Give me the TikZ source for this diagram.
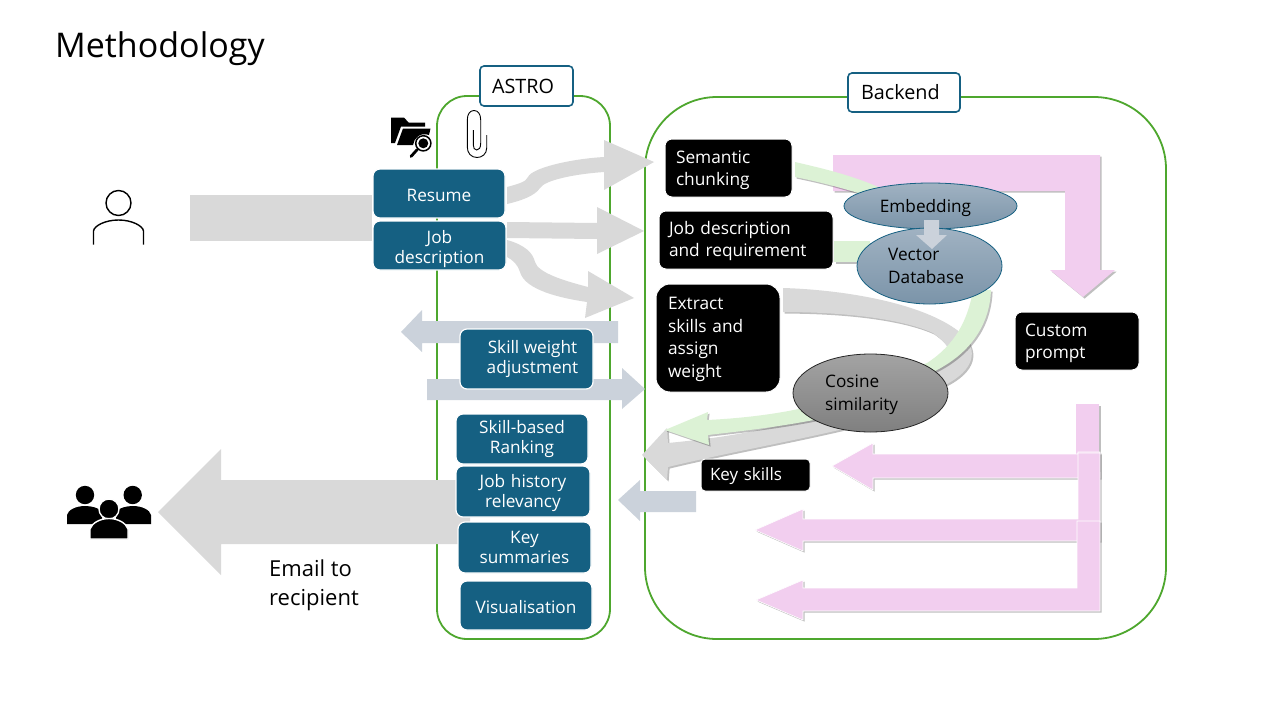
\documentclass[tikz,border=0pt]{standalone}
\usepackage{fontspec}
\setmainfont{Open Sans}
\usetikzlibrary{shapes.geometric,shadows}
\definecolor{teal}{HTML}{156082}
\definecolor{frame}{HTML}{4EA72E}
\definecolor{greyarrow}{HTML}{D9D9D9}
\definecolor{bluearrow}{HTML}{CBD2DB}
\definecolor{pinkarrow}{HTML}{F2CEEF}
\definecolor{greenarrow}{HTML}{DCF2D5}
\definecolor{HTMLtop}{HTML}{A0B2C2}
\definecolor{HTMLbot}{HTML}{7B94A9}
\tikzset{
  panel/.style={draw=frame,line width=1.8pt,fill=none},
  tag/.style={draw=teal,line width=1.6pt,fill=white,rounded corners=4pt,inner sep=0pt,text=black,align=left,font=\fontsize{19.8}{24}\selectfont},
  tealbox/.style={fill=teal,draw=white,line width=1.2pt,rounded corners=7pt,inner sep=0pt,text=white,align=center,font=\fontsize{17.2}{20}\selectfont},
  blackbox/.style={fill=black,draw=white,line width=1pt,rounded corners=7pt,inner sep=0pt,text=white,align=left,font=\fontsize{17.3}{22.7}\selectfont},
  orb/.style={ellipse,inner sep=0pt,text=black,align=left,font=\fontsize{17.2}{23}\selectfont},
  blueorb/.style={orb,draw=teal,line width=.8pt,top color=HTMLtop,bottom color=HTMLbot},
  greyorb/.style={orb,draw=black!85,line width=.8pt,top color=black!36,bottom color=black!50},
  soft/.style={drop shadow={shadow xshift=1.6pt,shadow yshift=-1.6pt,fill=black,opacity=.25}},
  shgrey/.style={fill=greyarrow},
  shblue/.style={fill=bluearrow},
  shpink/.style={fill=pinkarrow,soft},
  shpinkline/.style={fill=pinkarrow,draw=white,line width=.6pt,soft},
  shgreen/.style={fill=greenarrow,soft},
  shgreyc/.style={fill=greyarrow,soft},
  plain/.style={text=black,align=left,inner sep=0pt},
  lower/.style={execute at begin node={\rule{0pt}{\dimexpr13pt+2\dimexpr#1pt\relax\relax}}},
}
\begin{document}
\begin{tikzpicture}[x=1pt,y=-1pt]
\useasboundingbox (0,0) rectangle (1280,720);
\fill[white] (0,0) rectangle (1280,720);

% title
\node[plain,anchor=west,font=\fontsize{34}{40}\selectfont] (title) at (55,49) {Methodology};

% containers
\draw[panel,rounded corners=30pt] (437,96) rectangle (610,639);
\draw[panel,rounded corners=72pt] (645,97) rectangle (1166,639);
\node[tag,minimum width=93pt,minimum height=40pt,text width=69pt] (astro) at (526.5,86) {ASTRO};
\node[tag,minimum width=112pt,minimum height=39pt,text width=86pt,lower=1] (backend) at (904,92.5) {Backend};

% big grey arrows
\fill[shgrey] (190,195) -- (372,195) -- (372,241) -- (190,241) -- cycle;
\fill[shgrey] (470,480) -- (221,480) -- (221,449) -- (158,512) -- (221,575) -- (221,544) -- (470,544) -- cycle;

% resume arrows
\fill[shgrey] (507,187) .. controls (518,184) and (526,182) .. (528,177)
  .. controls (532,168) and (570,159) .. (604,157) -- (604,140) -- (654,162) -- (604,190) -- (604,172)
  .. controls (575,174) and (545,180) .. (540,188) .. controls (535,196) and (520,201) .. (507,204) -- cycle;
\fill[shgrey] (507,222) -- (597,223) -- (597,207) -- (644,231) -- (597,254) -- (597,239) -- (507,238) -- cycle;
\fill[shgrey] (507,240) .. controls (525,245) and (533,253) .. (535,262)
  .. controls (538,273) and (565,281) .. (588,287) -- (588,271) -- (634,298) -- (585,318) -- (587,302)
  .. controls (560,298) and (525,290) .. (520,272) .. controls (518,265) and (513,260) .. (507,257) -- cycle;

% blue-grey arrows
\fill[shblue] (618,321) -- (422,321) -- (422,310) -- (401,332) -- (422,352) -- (422,343) -- (618,343) -- cycle;
\fill[shblue] (427,379) -- (622,379) -- (622,368) -- (645,389) -- (622,409) -- (622,400) -- (427,400) -- cycle;
\fill[shblue] (696,491) -- (640,491) -- (640,480) -- (618,500) -- (640,521) -- (640,512) -- (696,512) -- cycle;

% pink arrows
\fill[shpink] (833,155) -- (1100,155) -- (1100,270) -- (1115,270) -- (1083,297) -- (1050,270) -- (1065,270) -- (1065,191) -- (833,191) -- cycle;
\fill[shpink] (1076,404) -- (1099,404) -- (1099,470) -- (1076,470) -- cycle;
\fill[shpinkline] (1100,452) -- (1100,478) -- (873,478) -- (873,490) -- (832,466) -- (873,443) -- (873,454) -- (1078,454) -- (1078,452) -- cycle;
\fill[shpinkline] (1100,453) -- (1100,541) -- (803,541) -- (803,551) -- (755,530) -- (803,509) -- (803,519) -- (1078,519) -- (1078,453) -- cycle;
\fill[shpinkline] (1100,521) -- (1100,611) -- (803,611) -- (803,620) -- (756,600) -- (803,580) -- (803,588) -- (1077,588) -- (1077,521) -- cycle;

% curved grey arrow
\fill[shgreyc] (783,288) .. controls (850,290) and (930,305) .. (963,335)
  .. controls (978,350) and (975,370) .. (945,385) -- (860,425)
  .. controls (800,440) and (730,452) .. (668,467) -- (667,480) -- (642,455) -- (667,428) -- (668,443)
  .. controls (720,438) and (780,430) .. (845,405) -- (940,365)
  .. controls (955,355) and (950,345) .. (933,333)
  .. controls (900,318) and (840,312) .. (783,312) -- cycle;

% curved green arrows
\fill[shgreen] (795,162) .. controls (825,169) and (855,176) .. (885,190) -- (865,195) .. controls (842,188) and (820,182) .. (795,177) -- cycle;
\fill[shgreen] (834,241) -- (870,241) -- (870,262) -- (834,262) -- cycle;
\fill[shgreen] (973,290) -- (991,290) .. controls (990,320) and (975,350) .. (937,370)
  -- (870,405) .. controls (830,420) and (770,428) .. (708,435) -- (709,445) -- (665,430) -- (708,412) -- (707,420)
  .. controls (750,418) and (790,412) .. (815,405) -- (927,363)
  .. controls (955,345) and (968,320) .. (973,290) -- cycle;

% teal boxes
\node[tealbox,lower=2,minimum width=132pt,minimum height=49pt] (resume) at (439,193.5) {Resume};
\node[tealbox,lower=4,text width=120pt,minimum width=133pt,minimum height=49pt] (jobdesc) at (439.5,245.5) {Job\\description};
\node[tealbox,minimum width=133pt,minimum height=60pt] (skillw) at (526.5,359) {\hspace*{12pt}Skill weight\\\hspace*{12pt}adjustment};
\node[tealbox,minimum width=132pt,minimum height=50pt] (ranking) at (522,439) {Skill-based\\Ranking};
\node[tealbox,lower=1.5,text width=120pt,minimum width=134pt,minimum height=51pt] (history) at (523,491.5) {Job history\\relevancy};
\node[tealbox,minimum width=133pt,minimum height=51pt] (summaries) at (524.5,547.5) {Key\\summaries};
\node[tealbox,lower=2,minimum width=132pt,minimum height=49pt] (visual) at (526,605.5) {Visualisation};

% black boxes
\node[blackbox,lower=2,minimum width=127pt,minimum height=58pt,text width=105pt] (semantic) at (728.5,168) {Semantic\\chunking};
\node[blackbox,lower=1,minimum width=174pt,minimum height=58pt,text width=154pt] (jobreq) at (746,240) {Job description\\and requirement};
\node[blackbox,lower=1,rounded corners=14pt,minimum width=124pt,minimum height=108pt,text width=100pt] (extract) at (718,338) {Extract\\skills and\\assign\\weight};
\node[blackbox,lower=2,minimum width=124pt,minimum height=58pt,text width=104pt] (custom) at (1077,341) {Custom\\prompt};
\node[blackbox,lower=1,rounded corners=4pt,minimum width=109pt,minimum height=32pt,text width=91pt,font=\fontsize{17}{20}\selectfont] (keyskills) at (755.5,475) {Key skills};

% ellipses
\node[blueorb,lower=2,minimum width=173pt,minimum height=46pt] (embedding) at (930.5,206) {\hspace*{-10pt}Embedding};
\node[blueorb,minimum width=145pt,minimum height=76pt] (vectordb) at (929.5,266) {};
\node[plain,anchor=west,font=\fontsize{17.2}{23}\selectfont] (vectortext) at (888,266) {Vector\\Database};
\fill[shblue] (924,220) -- (939,220) -- (939,235) -- (947,235) -- (932,249) -- (916,235) -- (924,235) -- cycle;
\node[greyorb,minimum width=155pt,minimum height=78pt] (cosine) at (870.5,393) {};
\node[plain,anchor=west,font=\fontsize{17.2}{23}\selectfont] (cosinetext) at (825,394.5) {Cosine\\similarity};

% caption
\node[plain,anchor=west,font=\fontsize{22}{29}\selectfont] (email) at (269,585) {Email to\\recipient};

% person icon
\draw[black,line width=1.4pt] (118.5,203) circle (12.5);
\draw[black,line width=1.4pt] (93.5,244.5) -- (93.5,231) .. controls (94,226) and (105,220) .. (118.5,220) .. controls (132,220) and (143,226) .. (143.5,231) -- (143.5,244.5);

% group icon
\fill[black] (85,495) circle (9.2) (132.7,495) circle (9.2);
\fill[black] (67,524) -- (67,515) .. controls (68,510) and (76,506) .. (85,506) .. controls (92,506) and (98,508) .. (102,511) -- (102,524) -- cycle;
\fill[black] (151,524) -- (151,515) .. controls (150,510) and (142,506) .. (133,506) .. controls (126,506) and (120,508) .. (116,511) -- (116,524) -- cycle;
\fill[black,draw=white,line width=1.4pt] (109,509) circle (10);
\fill[black,draw=white,line width=1.4pt] (90,539) -- (90,529) .. controls (92,523) and (100,518.5) .. (109,518.5) .. controls (118,518.5) and (126,523) .. (128,529) -- (128,539) -- cycle;

% folder icon
\fill[black] (391,117.5) -- (404,117.5) -- (408.5,122.5) -- (425,122.5) -- (425,126.5) -- (401,126.5) -- (395,143) -- (391,143) -- cycle;
\fill[black] (397,145) -- (403,128.5) -- (430.5,128.5) -- (429,135) .. controls (420,132) and (414,138) .. (413,145) -- cycle;
\draw[black,line width=1.5pt,fill=white] (423.3,143.3) circle (7.6);
\fill[black] (423.3,143.3) circle (5);
\draw[black,line width=2.8pt,line cap=round] (417.3,149.5) -- (411,156.5);

% paper clip
\draw[black,line width=.9pt] (486.7,135) -- (486.7,148) .. controls (486.7,154) and (482,157.5) .. (477,157.5)
  .. controls (471,157.5) and (467.3,153) .. (467.3,147) -- (467.3,120)
  .. controls (467.3,114) and (470,110.5) .. (474,110.5) .. controls (478,110.5) and (480.7,114) .. (480.7,120)
  -- (480.7,143) .. controls (480.7,148) and (479,150) .. (476.7,150) .. controls (474.5,150) and (473.3,148) .. (473.3,145) -- (473.3,130);
\end{tikzpicture}
\end{document}
